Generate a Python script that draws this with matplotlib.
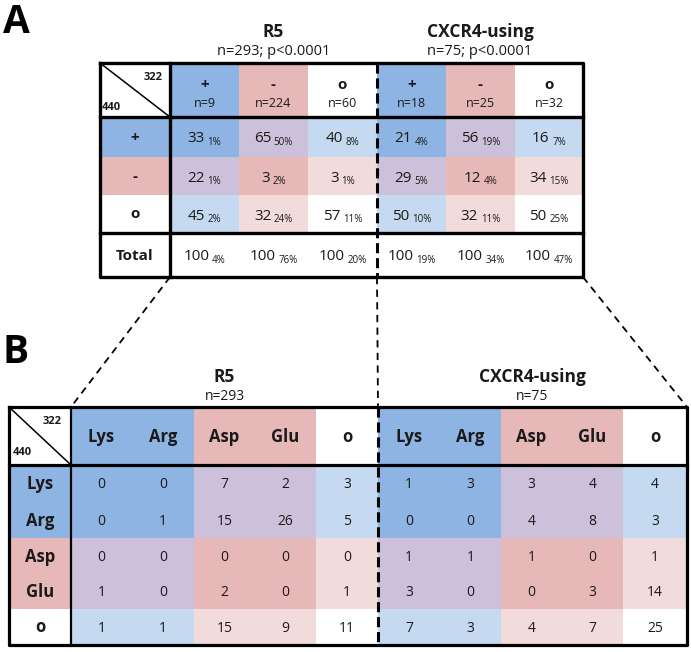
import matplotlib
matplotlib.use('Agg')
import matplotlib.pyplot as plt
from matplotlib.patches import Rectangle

plt.rcParams['font.family'] = ['Open Sans', 'DejaVu Sans']

# ---------------- data ----------------
a_classes = ['+', '-', 'o']
a_groups = ['R5', 'CXCR4-using']
a_group_sub = ['n=293; p<0.0001', 'n=75; p<0.0001']
a_col_n_r5 = [9, 224, 60]
a_col_n_x4 = [18, 25, 32]
a_vals_r5 = [[33, 65, 40], [22, 3, 3], [45, 32, 57]]
a_pct_r5 = [[1, 50, 8], [1, 2, 1], [2, 24, 11]]
a_total_r5 = [100, 100, 100]
a_total_pct_r5 = [4, 76, 20]
a_vals_x4 = [[21, 56, 16], [29, 12, 34], [50, 32, 50]]
a_pct_x4 = [[4, 19, 7], [5, 4, 15], [10, 11, 25]]
a_total_x4 = [100, 100, 100]
a_total_pct_x4 = [19, 34, 47]

b_labels = ['Lys', 'Arg', 'Asp', 'Glu', 'o']
b_label_class = ['+', '+', '-', '-', 'o']
b_groups = ['R5', 'CXCR4-using']
b_group_sub = ['n=293', 'n=75']
b_vals_r5 = [[0, 0, 7, 2, 3],
             [0, 1, 15, 26, 5],
             [0, 0, 0, 0, 0],
             [1, 0, 2, 0, 1],
             [1, 1, 15, 9, 11]]
b_vals_x4 = [[1, 3, 3, 4, 4],
             [0, 0, 4, 8, 3],
             [1, 1, 1, 0, 1],
             [3, 0, 0, 3, 14],
             [7, 3, 4, 7, 25]]

# ---------------- style ----------------
BLUE = '#8DB4E2'
PINK = '#E6B8B7'
PURPLE = '#CCC0DA'
LBLUE = '#C5D9F1'
LPINK = '#F2DCDB'
WHITE = '#FFFFFF'
TXT = '#1a1a1a'


def class_color(c):
    return {'+': BLUE, '-': PINK, 'o': WHITE}[c]


def pair_color(r, c):
    s = {r, c}
    if s == {'+'}:
        return BLUE
    if s == {'-'}:
        return PINK
    if s == {'+', '-'}:
        return PURPLE
    if s == {'+', 'o'}:
        return LBLUE
    if s == {'-', 'o'}:
        return LPINK
    return WHITE


W, H = 691, 652
fig = plt.figure(figsize=(W / 100, H / 100), dpi=100)
ax = fig.add_axes([0, 0, 1, 1])
ax.set_xlim(0, W)
ax.set_ylim(H, 0)
ax.axis('off')
renderer = fig.canvas.get_renderer()


def rect(x0, x1, y0, y1, fc):
    ax.add_patch(Rectangle((x0, y0), x1 - x0, y1 - y0, facecolor=fc,
                           edgecolor='none', zorder=1))


def line(xs, ys, lw, ls='-', z=5):
    ax.plot(xs, ys, color='black', lw=lw, ls=ls, zorder=z,
            solid_capstyle='projecting', dash_capstyle='butt')


def num_pct(cx, cy, num, pct):
    t1 = ax.text(0, cy + 5.5, str(num), fontsize=11, ha='left',
                 va='baseline', color=TXT, zorder=6)
    t2 = ax.text(0, cy + 8, f'{pct}%', fontsize=7, ha='left',
                 va='baseline', color=TXT, zorder=6)
    w1 = t1.get_window_extent(renderer).width
    w2 = t2.get_window_extent(renderer).width
    gap = 2.5
    x0 = cx - (w1 + gap + w2) / 2
    t1.set_x(x0)
    t2.set_x(x0 + w1 + gap)


# ================= Panel A =================
ax.text(3, 33, 'A', fontsize=28, fontweight='bold', ha='left',
        va='baseline', color='black')

xA = [100, 170, 239, 308, 377, 446, 515, 583]
yA = [63, 117, 157, 195, 233, 277]

# group titles
for g in range(2):
    cx = (xA[1 + 3 * g] + xA[4 + 3 * g]) / 2
    ax.text(cx, 37, a_groups[g], fontsize=12.5, fontweight='bold',
            ha='center', va='baseline', color=TXT)
    ax.text(cx, 55, a_group_sub[g], fontsize=10.5, ha='center',
            va='baseline', color=TXT)

# backgrounds
for g, (ns, vals, pcts, tots, tpcts) in enumerate([
        (a_col_n_r5, a_vals_r5, a_pct_r5, a_total_r5, a_total_pct_r5),
        (a_col_n_x4, a_vals_x4, a_pct_x4, a_total_x4, a_total_pct_x4)]):
    for j, cc in enumerate(a_classes):
        x0, x1 = xA[1 + 3 * g + j], xA[2 + 3 * g + j]
        cx = (x0 + x1) / 2
        rect(x0, x1, yA[0], yA[1], class_color(cc))
        ax.text(cx, 89, cc, fontsize=11, fontweight='bold', ha='center',
                va='baseline', color=TXT, zorder=6)
        ax.text(cx, 107, f'n={ns[j]}', fontsize=9, ha='center',
                va='baseline', color=TXT, zorder=6)
        for i, rc in enumerate(a_classes):
            y0, y1 = yA[1 + i], yA[2 + i]
            rect(x0, x1, y0, y1, pair_color(rc, cc))
            num_pct(cx, (y0 + y1) / 2, vals[i][j], pcts[i][j])
        num_pct(cx, (yA[4] + yA[5]) / 2, tots[j], tpcts[j])

# row headers
for i, rc in enumerate(a_classes):
    y0, y1 = yA[1 + i], yA[2 + i]
    rect(xA[0], xA[1], y0, y1, class_color(rc))
    ax.text((xA[0] + xA[1]) / 2, (y0 + y1) / 2 + 4.5, rc, fontsize=11,
            fontweight='bold', ha='center', va='baseline', color=TXT, zorder=6)
ax.text((xA[0] + xA[1]) / 2, (yA[4] + yA[5]) / 2 + 5.5, 'Total', fontsize=11,
        fontweight='bold', ha='center', va='baseline', color=TXT, zorder=6)

# corner
ax.text(163, 80, '322', fontsize=8, fontweight='bold', ha='right',
        va='baseline', color=TXT, zorder=6)
ax.text(102, 110, '440', fontsize=8, fontweight='bold', ha='left',
        va='baseline', color=TXT, zorder=6)
line([xA[0], xA[1]], [yA[0], yA[1]], 1.1)

# lines A
lwA = 2.4
line([xA[0], xA[-1], xA[-1], xA[0], xA[0]],
     [yA[0], yA[0], yA[-1], yA[-1], yA[0]], lwA)
line([xA[0], xA[-1]], [yA[1], yA[1]], lwA)
line([xA[0], xA[-1]], [yA[4], yA[4]], lwA)
line([xA[1], xA[1]], [yA[0], yA[-1]], lwA)
line([xA[4], xA[4]], [yA[0], yA[-1]], 2.2, ls=(0, (3.3, 1.6)))

# ================= Panel B =================
ax.text(3, 363, 'B', fontsize=28, fontweight='bold', ha='left',
        va='baseline', color='black')

xB = [9, 71, 132, 194, 255, 316, 378, 440, 501, 562, 623, 687]
yB = [407, 465, 502, 538, 574, 609, 645]

for g in range(2):
    cx = (xB[1 + 5 * g] + xB[6 + 5 * g]) / 2
    ax.text(cx, 382, b_groups[g], fontsize=12.5, fontweight='bold',
            ha='center', va='baseline', color=TXT)
    ax.text(cx, 400, b_group_sub[g], fontsize=10, ha='center',
            va='baseline', color=TXT)

for g, vals in enumerate([b_vals_r5, b_vals_x4]):
    for j, cl in enumerate(b_labels):
        x0, x1 = xB[1 + 5 * g + j], xB[2 + 5 * g + j]
        cx = (x0 + x1) / 2
        cc = b_label_class[j]
        rect(x0, x1, yB[0], yB[1], class_color(cc))
        ax.text(cx, (yB[0] + yB[1]) / 2 + 5.5, cl, fontsize=12,
                fontweight='bold', ha='center', va='baseline', color=TXT,
                zorder=6)
        for i, rl in enumerate(b_labels):
            y0, y1 = yB[1 + i], yB[2 + i]
            rect(x0, x1, y0, y1, pair_color(b_label_class[i], cc))
            ax.text(cx, (y0 + y1) / 2 + 5, str(vals[i][j]), fontsize=10,
                    ha='center', va='baseline', color=TXT, zorder=6)

for i, rl in enumerate(b_labels):
    y0, y1 = yB[1 + i], yB[2 + i]
    rect(xB[0], xB[1], y0, y1, class_color(b_label_class[i]))
    ax.text((xB[0] + xB[1]) / 2, (y0 + y1) / 2 + 5.5, rl, fontsize=12,
            fontweight='bold', ha='center', va='baseline', color=TXT, zorder=6)

ax.text(62, 424, '322', fontsize=8, fontweight='bold', ha='right',
        va='baseline', color=TXT, zorder=6)
ax.text(13, 455, '440', fontsize=8, fontweight='bold', ha='left',
        va='baseline', color=TXT, zorder=6)
line([xB[0], xB[1]], [yB[0], yB[1]], 1.1)

lwB = 2.3
line([xB[0], xB[-1], xB[-1], xB[0], xB[0]],
     [yB[0], yB[0], yB[-1], yB[-1], yB[0]], lwB)
line([xB[0], xB[-1]], [yB[1], yB[1]], lwB)
line([xB[1], xB[1]], [yB[0], yB[-1]], 1.6)
line([xB[6], xB[6]], [yB[0], yB[-1]], 2.2, ls=(0, (3.3, 1.6)))

# ================= connectors =================
line([xA[4], xB[6]], [yA[-1], yB[0]], 1.3, ls=(0, (4.0, 3.0)))
line([xA[1], xB[1]], [yA[-1], yB[0]], 1.3, ls=(0, (4.0, 3.0)))
line([xA[-1], xB[-1]], [yA[-1], yB[0]], 1.3, ls=(0, (4.0, 3.0)))

fig.savefig('out.png', dpi=100)
